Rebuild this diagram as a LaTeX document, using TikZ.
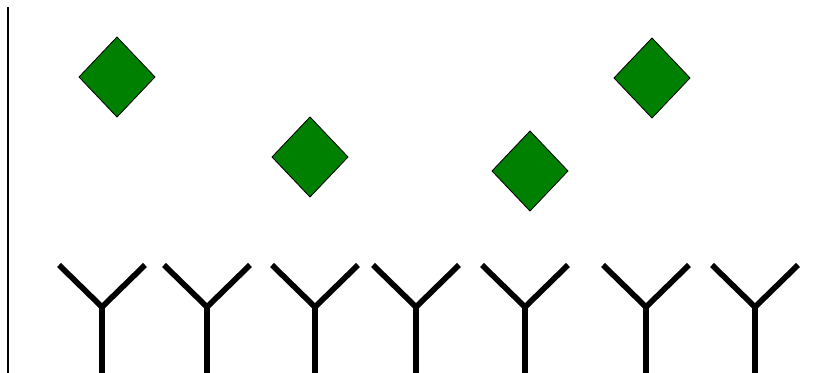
\documentclass[tikz,border=0pt]{standalone}
\usepackage{tikz}
\usepackage{xcolor}
\definecolor{antigen}{RGB}{0,128,0}

\begin{document}
\begin{tikzpicture}[
  x=0.3mm, y=-0.3mm,
  antigenbox/.style={draw=black, fill=antigen, line width=0.7pt, line join=round},
  antibody/.style={draw=black, line width=1.7mm, line join=miter, line cap=butt},
  wall/.style={draw=black, line width=0.5mm}
]
\useasboundingbox (0,0) rectangle (823,373);

% Membrane line
\draw[wall] (8,7) -- (8,373);

% Antigens
\foreach \cx/\cy in {117/77, 310/157, 530/171, 652/78}
  \draw[antigenbox] (\cx,\cy-40) -- (\cx+38,\cy) -- (\cx,\cy+40) -- (\cx-38,\cy) -- cycle;

% Antibodies
\foreach \cx in {102, 207, 315, 416, 525, 646, 755}
  \draw[antibody] (\cx-43,265) -- (\cx,307) -- (\cx+43,265)
                  (\cx,307) -- (\cx,380);

\end{tikzpicture}
\end{document}
